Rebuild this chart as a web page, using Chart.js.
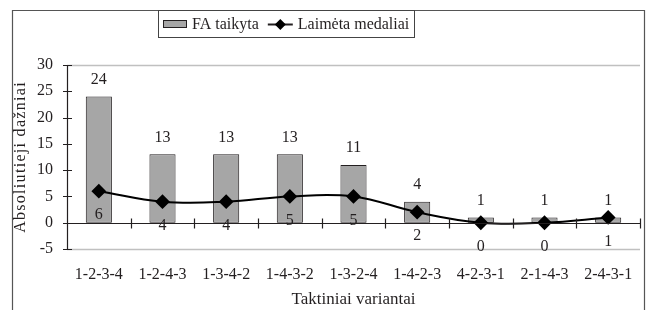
<!DOCTYPE html>
<html>
<head>
<meta charset="utf-8">
<script src="https://cdn.jsdelivr.net/npm/chart.js@4"></script>
<style>
  html, body { margin: 0; padding: 0; background: #fff; }
  #wrap { width: 648px; height: 310px; }
</style>
</head>
<body>
<div id="wrap"><canvas id="chart" width="648" height="310"></canvas></div>
<script>
// data
var variantai = ['1-2-3-4', '1-2-4-3', '1-3-4-2', '1-4-3-2', '1-3-2-4', '1-4-2-3', '4-2-3-1', '2-1-4-3', '2-4-3-1'];
var faTaikyta = [24, 13, 13, 13, 11, 4, 1, 1, 1];
var laimetaMedaliai = [6, 4, 4, 5, 5, 2, 0, 0, 1];
var yMin = -5, yMax = 30, yStep = 5;

var serif = "'Liberation Serif', 'DejaVu Serif', serif";
var textColor = '#231f20';

// axis lines, cross ticks, labels, legend, frame
var decor = {
  id: 'decor',
  beforeDatasetsDraw: function(chart) {
    var ctx = chart.ctx, a = chart.chartArea;
    var y = chart.scales.y;
    ctx.save();
    ctx.strokeStyle = '#c0c0c0';
    ctx.lineWidth = 1.5;
    ctx.beginPath();
    ctx.moveTo(a.left, y.getPixelForValue(yMax) + 0.5);
    ctx.lineTo(a.right, y.getPixelForValue(yMax) + 0.5);
    ctx.moveTo(a.left, y.getPixelForValue(yMin) + 0.5);
    ctx.lineTo(a.right, y.getPixelForValue(yMin) + 0.5);
    ctx.stroke();
    ctx.restore();
  },
  afterDatasetsDraw: function(chart) {
    var ctx = chart.ctx, a = chart.chartArea;
    var y = chart.scales.y;
    ctx.save();
    // y axis line with cross ticks
    ctx.strokeStyle = '#231f20';
    ctx.lineWidth = 1.2;
    ctx.beginPath();
    ctx.moveTo(a.left + 0.5, y.getPixelForValue(yMax));
    ctx.lineTo(a.left + 0.5, y.getPixelForValue(yMin));
    for (var v = yMin; v <= yMax; v += yStep) {
      var py = Math.round(y.getPixelForValue(v)) + 0.5;
      ctx.moveTo(a.left - 4, py);
      ctx.lineTo(a.left + 5, py);
    }
    // zero line with cross ticks between categories
    var y0 = Math.round(y.getPixelForValue(0)) + 0.5;
    ctx.moveTo(a.left, y0);
    ctx.lineTo(a.right, y0);
    var step = (a.right - a.left) / variantai.length;
    for (var i = 1; i <= variantai.length; i++) {
      var px = Math.round(a.left + step * i) + 0.5;
      ctx.moveTo(px, y0 - 5);
      ctx.lineTo(px, y0 + 5);
    }
    ctx.stroke();

    // value labels
    ctx.fillStyle = textColor;
    ctx.font = '16px ' + serif;
    ctx.textAlign = 'center';
    ctx.textBaseline = 'middle';
    var bars = chart.getDatasetMeta(1).data;
    var pts = chart.getDatasetMeta(0).data;
    for (var j = 0; j < variantai.length; j++) {
      ctx.fillText(String(faTaikyta[j]), bars[j].x, bars[j].y - 17);
      ctx.fillText(String(laimetaMedaliai[j]), pts[j].x, pts[j].y + 24);
    }
    ctx.restore();
  },
  afterDraw: function(chart) {
    var ctx = chart.ctx, a = chart.chartArea;
    ctx.save();
    // outer frame
    ctx.strokeStyle = '#555';
    ctx.lineWidth = 1.2;
    ctx.beginPath();
    ctx.moveTo(12.5, 310);
    ctx.lineTo(12.5, 10.5);
    ctx.lineTo(644.5, 10.5);
    ctx.lineTo(644.5, 310);
    ctx.stroke();

    // y title, spread out
    ctx.fillStyle = textColor;
    ctx.font = '16px ' + serif;
    ctx.textAlign = 'center';
    ctx.textBaseline = 'middle';
    ctx.translate(21, 157);
    ctx.rotate(-Math.PI / 2);
    ctx.letterSpacing = '1.3px';
    ctx.fillText('Absoliutieji dažniai', 0, 0);
    ctx.restore();

    // legend box, laid out from the measured text
    ctx.save();
    ctx.font = '16px ' + serif;
    var w1 = ctx.measureText('FA taikyta').width;
    var w2 = ctx.measureText('Laimėta medaliai').width;
    var total = 24 + 5 + w1 + 9 + 25 + 5 + w2;
    var boxW = Math.round(total + 10);
    var boxX = Math.round(286 - boxW / 2);
    var x0 = boxX + 5;
    var ly = 24.5;
    ctx.strokeStyle = '#444';
    ctx.lineWidth = 1;
    ctx.strokeRect(boxX + 0.5, 10.5, boxW, 27);
    ctx.fillStyle = '#a6a6a6';
    ctx.fillRect(x0, 20, 24, 8);
    ctx.strokeStyle = '#231f20';
    ctx.strokeRect(x0 + 0.5, 20.5, 23, 7);
    var lx = x0 + 24 + 5 + w1 + 9;
    ctx.lineWidth = 2;
    ctx.beginPath();
    ctx.moveTo(lx, ly);
    ctx.lineTo(lx + 25, ly);
    ctx.stroke();
    ctx.fillStyle = '#000';
    ctx.beginPath();
    ctx.moveTo(lx + 12.5, ly - 5.5);
    ctx.lineTo(lx + 18, ly);
    ctx.lineTo(lx + 12.5, ly + 5.5);
    ctx.lineTo(lx + 7, ly);
    ctx.closePath();
    ctx.fill();
    ctx.fillStyle = textColor;
    ctx.textBaseline = 'middle';
    ctx.textAlign = 'left';
    ctx.fillText('FA taikyta', x0 + 29, 25);
    ctx.fillText('Laimėta medaliai', lx + 30, 25);
    ctx.restore();
  }
};

var chart = new Chart(document.getElementById('chart').getContext('2d'), {
  data: {
    labels: variantai,
    datasets: [
      {
        type: 'line',
        label: 'Laimėta medaliai',
        data: laimetaMedaliai,
        borderColor: '#000',
        borderWidth: 2,
        tension: 0.4,
        pointStyle: 'rectRot',
        pointRadius: 6,
        pointBackgroundColor: '#000',
        pointBorderColor: '#000',
        order: 0
      },
      {
        type: 'bar',
        label: 'FA taikyta',
        data: faTaikyta,
        backgroundColor: '#a6a6a6',
        borderColor: '#231f20',
        borderWidth: 1,
        borderSkipped: false,
        categoryPercentage: 1,
        barPercentage: 0.41,
        order: 1
      }
    ]
  },
  options: {
    responsive: false,
    animation: false,
    layout: { padding: { top: 65, right: 5, left: 0, bottom: 0 } },
    plugins: { legend: { display: false }, tooltip: { enabled: false } },
    scales: {
      x: {
        offset: true,
        grid: { display: false },
        border: { display: false },
        ticks: { color: textColor, font: { family: serif, size: 16 }, padding: 8, maxRotation: 0, autoSkip: false },
        title: { display: true, text: 'Taktiniai variantai', color: textColor, font: { family: serif, size: 17 }, padding: { top: 6, bottom: 0 } },
        afterFit: function(s) { s.height = 61; }
      },
      y: {
        min: yMin,
        max: yMax,
        ticks: { stepSize: yStep, color: textColor, font: { family: serif, size: 16 }, padding: 14 },
        grid: { display: false, drawTicks: false },
        border: { display: false },
        afterFit: function(s) { s.width = 67; }
      }
    }
  },
  plugins: [decor]
});
</script>
</body>
</html>
